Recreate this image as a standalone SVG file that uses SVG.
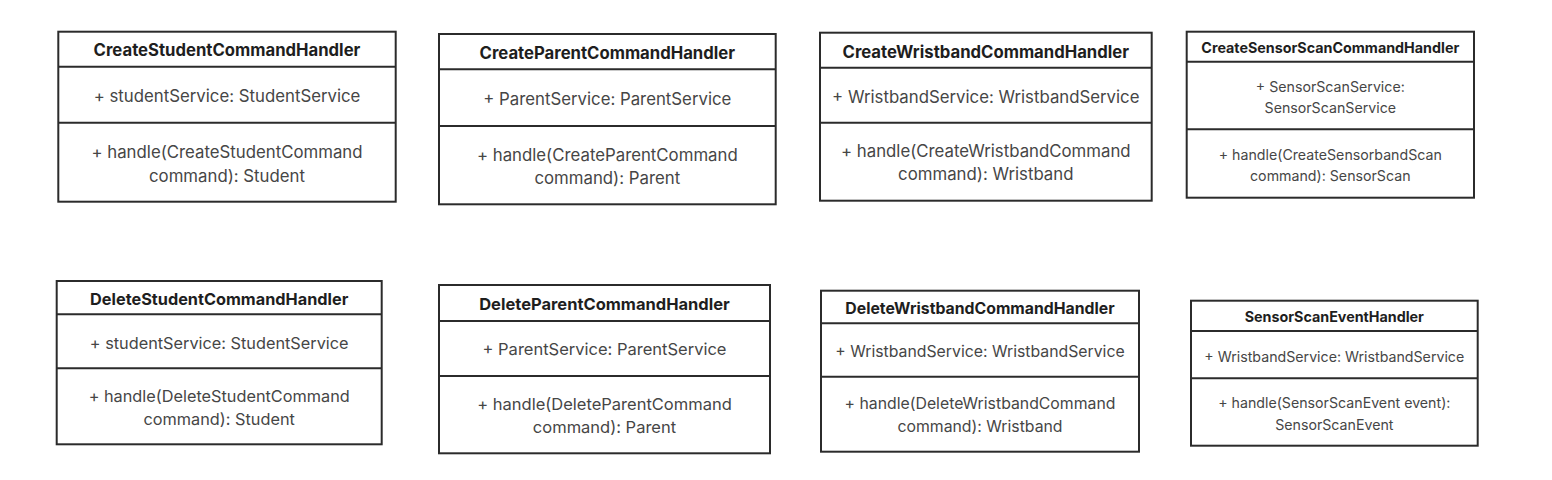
<svg xmlns="http://www.w3.org/2000/svg" width="1552" height="480" viewBox="0 0 1552 480">
<style>
.box{fill:#fff;stroke:#2b2b2b;stroke-width:2}
.div{stroke:#2b2b2b;stroke-width:2}
.t{font-family:Inter,"Liberation Sans",sans-serif;font-weight:700;fill:#1e1e1e;text-anchor:middle;dominant-baseline:central;font-size:16.7px}
.a{font-family:Inter,"Liberation Sans",sans-serif;fill:#464646;text-anchor:middle;dominant-baseline:central;font-size:16.8px}
.ts{font-size:14.3px}
.as{font-size:14.2px}
#DeleteStudentCommandHandler text{font-size:16.3px}
#DeleteParentCommandHandler text{font-size:16.5px}
#DeleteWristbandCommandHandler text{font-size:15.8px}
</style>
<rect width="1552" height="480" fill="#fff"/>
<g id="connectors"></g>
<g id="CreateStudentCommandHandler">
<rect class="box" x="58.3" y="31.7" width="337.4" height="170"/>
<line class="div" x1="58.3" y1="66.7" x2="395.7" y2="66.7"/>
<line class="div" x1="58.3" y1="122.7" x2="395.7" y2="122.7"/>
<text class="t" x="227" y="50">CreateStudentCommandHandler</text>
<text class="a" x="227" y="96">+ studentService: StudentService</text>
<text class="a" x="227" y="151.7">+ handle(CreateStudentCommand</text>
<text class="a" x="227" y="175.7">command): Student</text>
</g>
<g id="CreateParentCommandHandler">
<rect class="box" x="439" y="34" width="336.7" height="170.3"/>
<line class="div" x1="439" y1="69.3" x2="775.7" y2="69.3"/>
<line class="div" x1="439" y1="126" x2="775.7" y2="126"/>
<text class="t" x="607.3" y="53.3">CreateParentCommandHandler</text>
<text class="a" x="607.3" y="99">+ ParentService: ParentService</text>
<text class="a" x="607.3" y="155">+ handle(CreateParentCommand</text>
<text class="a" x="607.3" y="178">command): Parent</text>
</g>
<g id="CreateWristbandCommandHandler">
<rect class="box" x="820" y="32.7" width="331.7" height="168"/>
<line class="div" x1="820" y1="67.7" x2="1151.7" y2="67.7"/>
<line class="div" x1="820" y1="122.7" x2="1151.7" y2="122.7"/>
<text class="t" x="985.8" y="51.7">CreateWristbandCommandHandler</text>
<text class="a" x="985.8" y="96.7">+ WristbandService: WristbandService</text>
<text class="a" x="985.8" y="151">+ handle(CreateWristbandCommand</text>
<text class="a" x="985.8" y="174.3">command): Wristband</text>
</g>
<g id="CreateSensorScanCommandHandler">
<rect class="box" x="1186.7" y="31.7" width="287.3" height="166"/>
<line class="div" x1="1186.7" y1="61.7" x2="1474" y2="61.7"/>
<line class="div" x1="1186.7" y1="129.3" x2="1474" y2="129.3"/>
<text class="t ts" x="1330.3" y="47.3">CreateSensorScanCommandHandler</text>
<text class="a as" x="1330.3" y="86.7">+ SensorScanService:</text>
<text class="a as" x="1330.3" y="107.3">SensorScanService</text>
<text class="a as" x="1330.3" y="154">+ handle(CreateSensorbandScan</text>
<text class="a as" x="1330.3" y="175">command): SensorScan</text>
</g>
<g id="DeleteStudentCommandHandler">
<rect class="box" x="56.7" y="281" width="325" height="163.3"/>
<line class="div" x1="56.7" y1="314.3" x2="381.7" y2="314.3"/>
<line class="div" x1="56.7" y1="368.3" x2="381.7" y2="368.3"/>
<text class="t" x="219.2" y="299.3">DeleteStudentCommandHandler</text>
<text class="a" x="219.2" y="342.7">+ studentService: StudentService</text>
<text class="a" x="219.2" y="396">+ handle(DeleteStudentCommand</text>
<text class="a" x="219.2" y="419.3">command): Student</text>
</g>
<g id="DeleteParentCommandHandler">
<rect class="box" x="439" y="285" width="331" height="168.3"/>
<line class="div" x1="439" y1="321" x2="770" y2="321"/>
<line class="div" x1="439" y1="376" x2="770" y2="376"/>
<text class="t" x="604.5" y="304">DeleteParentCommandHandler</text>
<text class="a" x="604.5" y="349.3">+ ParentService: ParentService</text>
<text class="a" x="604.5" y="404">+ handle(DeleteParentCommand</text>
<text class="a" x="604.5" y="426.7">command): Parent</text>
</g>
<g id="DeleteWristbandCommandHandler">
<rect class="box" x="821" y="290.7" width="318" height="161"/>
<line class="div" x1="821" y1="323.3" x2="1139" y2="323.3"/>
<line class="div" x1="821" y1="376.7" x2="1139" y2="376.7"/>
<text class="t" x="980" y="308.3">DeleteWristbandCommandHandler</text>
<text class="a" x="980" y="351">+ WristbandService: WristbandService</text>
<text class="a" x="980" y="403.3">+ handle(DeleteWristbandCommand</text>
<text class="a" x="980" y="426">command): Wristband</text>
</g>
<g id="SensorScanEventHandler">
<rect class="box" x="1191" y="300.7" width="286.7" height="145"/>
<line class="div" x1="1191" y1="331" x2="1477.7" y2="331"/>
<line class="div" x1="1191" y1="378.3" x2="1477.7" y2="378.3"/>
<text class="t ts" x="1334.3" y="316.7">SensorScanEventHandler</text>
<text class="a as" x="1334.3" y="356">+ WristbandService: WristbandService</text>
<text class="a as" x="1334.3" y="402.7">+ handle(SensorScanEvent event):</text>
<text class="a as" x="1334.3" y="424">SensorScanEvent</text>
</g>
</svg>
